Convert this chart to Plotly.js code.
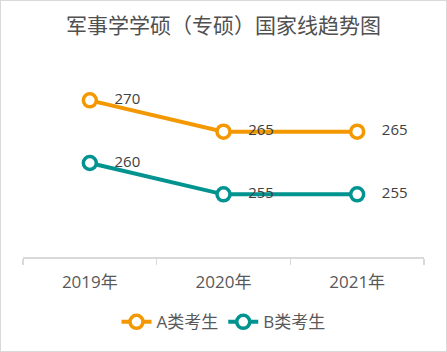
<!DOCTYPE html>
<html><head><meta charset="utf-8">
<script src="https://cdn.plot.ly/plotly-3.0.1.min.js"></script>
<style>html,body{margin:0;padding:0;background:#fff}
#wrap{width:445px;height:350px;border:1px solid #d9d9d9;}
#chart{width:445px;height:350px;}</style>
</head><body><div id="wrap"><div id="chart"></div></div>
<script>
const years = ['2019年','2020年','2021年'];
const seriesA = [270, 265, 265];
const seriesB = [260, 255, 255];
const nameA = 'A类考生';
const nameB = 'B类考生';
const title = '军事学学硕（专硕）国家线趋势图';

function tr(name, y, color){
  return {x: years, y: y, name: name, type:'scatter', mode:'lines+markers+text',
    text: y.map(v => '\u00a0\u00a0\u00a0\u00a0' + v), textposition:'middle right',
    textfont:{family:'Open Sans, Noto Sans, sans-serif', size:15, color:'#404040'},
    line:{color:color, width:4},
    marker:{size:13, color:'#ffffff', line:{color:color, width:3.5}},
    cliponaxis:false};
}
const data = [tr(nameA, seriesA, '#f39800'), tr(nameB, seriesB, '#00938f')];
const layout = {
  width:445, height:350,
  margin:{l:22, r:22, t:68, b:93},
  paper_bgcolor:'#fff', plot_bgcolor:'#fff',
  title:{text:title, x:0.5, xanchor:'center', y:0.93, yanchor:'middle',
    font:{family:'Noto Sans CJK SC, sans-serif', size:21, color:'#505050'}},
  xaxis:{type:'category', range:[-0.5,2.5], showgrid:false, zeroline:false,
    showline:true, linecolor:'#d9d9d9', linewidth:1.5,
    ticks:'outside', tickson:'boundaries', ticklen:6, tickcolor:'#d9d9d9', tickwidth:1.5,
    ticklabelstandoff:9,
    tickfont:{family:'Open Sans, Noto Sans CJK SC, sans-serif', size:17, color:'#595959'}},
  yaxis:{range:[245,275], visible:false, showgrid:false, zeroline:false},
  showlegend:true,
  legend:{orientation:'h', x:0.5, xanchor:'center', y:-0.34, yanchor:'middle',
    font:{family:'Open Sans, Noto Sans CJK SC, sans-serif', size:17, color:'#595959'},
    tracegroupgap:0}
};
Plotly.newPlot('chart', data, layout, {displayModeBar:false, staticPlot:true});
</script></body></html>
